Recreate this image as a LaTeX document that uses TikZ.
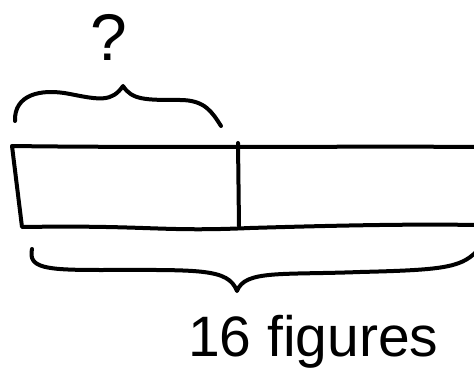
\documentclass[tikz,border=0pt]{standalone}
\usepackage{fontspec}
\setmainfont{Liberation Sans}
\begin{document}
\begin{tikzpicture}[x=1pt,y=-1pt,
  ink/.style={line width=4pt,line cap=round,line join=round,black},
  lbl/.style={inner sep=0pt,font=\fontsize{57}{60}\selectfont}]
\useasboundingbox (0,0) rectangle (474,385);
% tape corners
\coordinate (tl) at (12,146);
\coordinate (bl) at (22,227);
\coordinate (tr) at (476,147);
\coordinate (br) at (476,225);
\coordinate (mt) at (238,143);
\coordinate (mb) at (239,226);
\draw[ink] (tr) .. controls (380,146) and (150,148) .. (tl) -- (bl)
  .. controls (150,225) and (160,232) .. (250,228) .. controls (350,225) and (420,224) .. (br);
\draw[ink] (mt) -- (mb);
% top brace
\coordinate (b1l) at (15,121);
\coordinate (b1t) at (123,86);
\coordinate (b1r) at (221,126);
\draw[ink] (b1l) .. controls (14,95) and (40,88) .. (70,94)
  .. controls (100,100) and (112,102) .. (b1t)
  .. controls (132,100) and (145,100) .. (180,100)
  .. controls (205,100) and (212,112) .. (b1r);
% bottom brace
\coordinate (b2l) at (32,249);
\coordinate (b2t) at (237,291);
\coordinate (b2r) at (476,252);
\draw[ink] (b2l) .. controls (28,268) and (45,270) .. (100,270)
  .. controls (200,270) and (228,268) .. (b2t)
  .. controls (245,270) and (280,275) .. (360,272)
  .. controls (440,270) and (460,268) .. (b2r);
\node[lbl,font=\fontsize{66}{66}\selectfont] (q) at (109,37) {?};
\node[lbl,anchor=base west] (t) at (188,356) {16 figures};
\end{tikzpicture}
\end{document}
